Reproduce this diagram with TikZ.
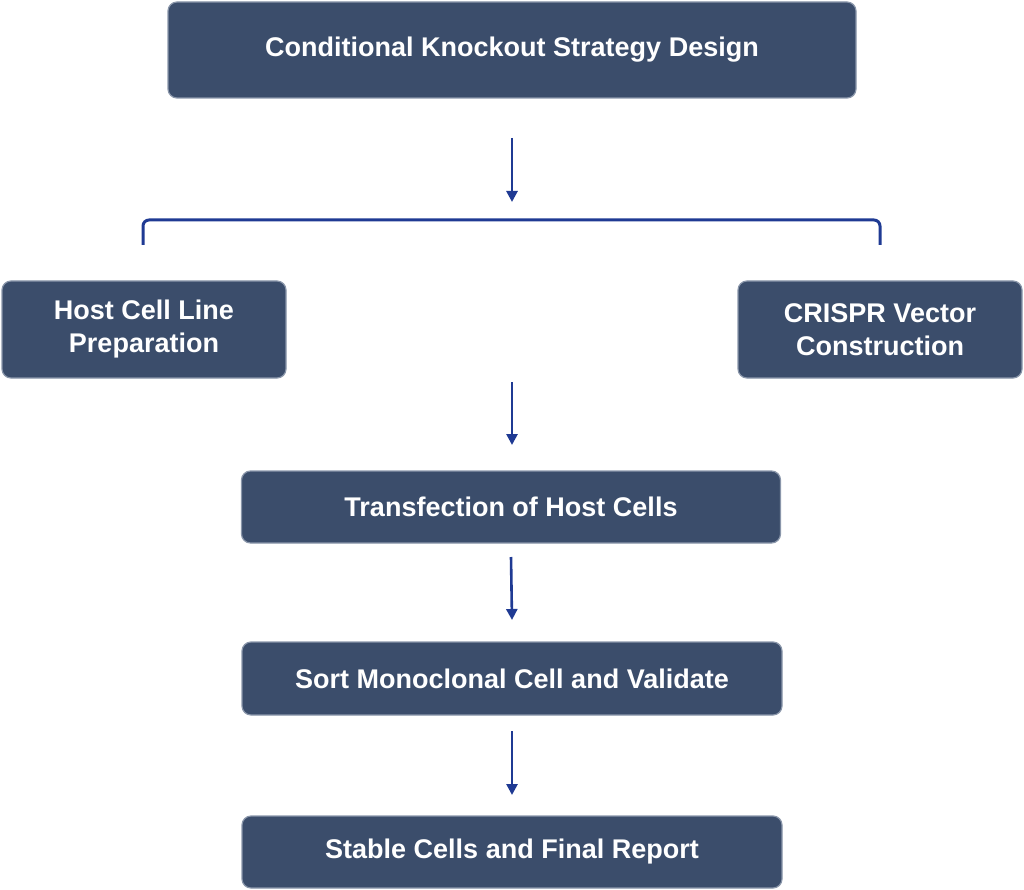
\documentclass[tikz,border=0pt]{standalone}
\usepackage{fontspec}
\setmainfont{Liberation Sans}
\usetikzlibrary{arrows.meta}
\definecolor{boxfill}{HTML}{3B4D6B}
\definecolor{boxline}{HTML}{8A96AA}
\definecolor{arr}{HTML}{1F3A93}
\tikzset{
  stepbox/.style={draw=boxline, line width=1.2pt, fill=boxfill, rounded corners=9pt,
    text=white, font=\bfseries\fontsize{27}{33}\selectfont, align=center, inner sep=0pt},
  flow/.style={draw=arr, line width=2.6pt, -{Triangle[length=11pt,width=11pt]}},
}
\begin{document}
\begin{tikzpicture}[x=1pt,y=-1pt]
\useasboundingbox (0,0) rectangle (1024,890);
\node[stepbox, minimum width=688pt, minimum height=96pt] (design) at (512,50) {Conditional Knockout Strategy Design};
\node[stepbox, minimum width=284pt, minimum height=97pt] (host) at (144,329.5) {Host Cell Line\\Preparation};
\node[stepbox, minimum width=284pt, minimum height=97pt] (crispr) at (880,329.5) {CRISPR Vector\\Construction};
\node[stepbox, minimum width=539pt, minimum height=72pt] (trans) at (511,507) {Transfection of Host Cells};
\node[stepbox, minimum width=540pt, minimum height=73pt] (sort) at (512,678.5) {Sort Monoclonal Cell and Validate};
\node[stepbox, minimum width=540pt, minimum height=72pt] (stable) at (512,852) {Stable Cells and Final Report};
\coordinate (a1) at (512,138); \coordinate (a2) at (512,202);
\coordinate (bl) at (143,245); \coordinate (br) at (880,245);
\coordinate (b1) at (512,382); \coordinate (b2) at (512,445);
\draw[flow] (a1) -- (a2);
\draw[draw=arr, line width=3pt, rounded corners=6pt] (bl) -- (143,220) -- (880,220) -- (br);
\draw[flow] (b1) -- (b2);
\draw[flow] (trans.south |- 0,557) -- (sort.north |- 0,620);
\draw[flow] (sort.south |- 0,731) -- (stable.north |- 0,795);
\end{tikzpicture}
\end{document}
